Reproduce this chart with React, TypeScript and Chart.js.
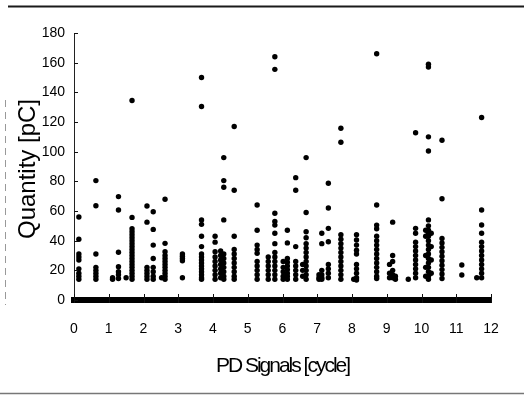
import React, { useEffect, useRef } from "react";
import { Chart, registerables } from "chart.js";

Chart.register(...registerables);

const xTitle = "PD Signals [cycle]";
const yTitle = "Quantity [pC]";
const xTickValues = [0, 1, 2, 3, 4, 5, 6, 7, 8, 9, 10, 11, 12];
const yTickValues = [0, 20, 40, 60, 80, 100, 120, 140, 160, 180];

// x position (cycle) of each column of PD signals
const signalCycles = [
  0.14, 0.63, 1.11, 1.28, 1.5, 1.67, 2.1, 2.28, 2.52, 2.62, 3.12, 3.67, 4.06, 4.22,
  4.31, 4.61, 5.27, 5.59, 5.78, 6.02, 6.14, 6.38, 6.58, 6.68, 7.05, 7.13, 7.32, 7.68,
  8.05, 8.13, 8.71, 9.08, 9.17, 9.25, 9.62, 9.83, 10.12, 10.2, 10.28, 10.59, 11.16,
  11.59, 11.73,
];

// charge values [pC] of the signals in each column
const signalCharges: number[][] = [
  [56, 41, 31, 29, 27, 21, 18, 16, 14],
  [80.5, 63.5, 31, 22, 20, 18, 16, 14],
  [15, 14],
  [69.7, 60.7, 32.2, 22.5, 19, 17, 14.5],
  [15],
  [134.5, 55.7, 48, 46, 44, 42, 40, 38, 36, 34, 32, 30, 28, 26, 24, 22, 20, 18, 16, 14],
  [63.4, 52.5, 22, 20, 18, 16, 14],
  [59.5, 47.6, 37, 28, 22, 19, 16, 14],
  [15],
  [67.9, 38.2, 32.5, 30, 28, 26, 24, 22, 20, 18, 16, 14],
  [31, 29.5, 28, 26.5, 15],
  [150, 130.5, 54, 51, 43, 36, 31, 29, 27, 25, 23, 21, 19, 17, 15, 14],
  [43, 39, 32.5, 29, 26, 23, 20, 17, 14],
  [33, 30, 27, 24, 21, 18, 15],
  [96, 80.5, 76, 54, 31, 28, 25, 22, 19, 16, 14],
  [117, 74, 43, 34, 31, 28, 25, 22, 19, 16, 14],
  [64, 47, 37, 34, 31.5, 26, 23, 20, 17, 14],
  [29, 26, 23, 20, 17, 14],
  [164, 155.5, 58.5, 53, 50.5, 45, 38, 32, 29, 26, 23, 20, 17, 14],
  [26, 22, 19, 16, 14],
  [47, 38.5, 28, 25.5, 23, 20.5, 18, 16, 14],
  [82.5, 74, 36, 26, 23, 20, 17, 14],
  [24, 20, 16],
  [96, 59, 46, 42, 38, 35, 32, 29, 26, 23, 20, 17, 14],
  [17, 15, 14],
  [45, 38, 20, 17, 15, 14],
  [78.7, 62, 48.3, 39.3, 24, 21, 18, 15],
  [115.8, 106.3, 44, 41, 38, 35, 32, 29, 26, 23, 20, 17, 14],
  [14],
  [44, 40.5, 37, 33.5, 31, 24, 21, 18, 15, 13.5],
  [166, 64, 50.5, 48, 43, 40, 37, 34, 31, 28, 25, 22, 19, 16, 14.5],
  [24, 18, 15],
  [52.5, 30, 26, 20, 17, 15],
  [16, 14],
  [14],
  [112.8, 48.3, 45, 39, 36, 33, 30, 27, 24, 21, 18, 15],
  [47, 43, 30, 22, 16],
  [159, 157, 110, 100.5, 54, 50, 47, 45, 43, 40, 37, 34, 31, 28, 25, 22, 19, 16, 14],
  [45, 36, 27, 18],
  [107.7, 68.3, 41.5, 38.5, 35.5, 32.5, 29.5, 26.5, 23.5, 20.5, 17.5, 14.5],
  [23.6, 16.9],
  [15],
  [123, 60.7, 50.6, 45, 39, 36, 33, 30, 27, 24, 21, 18, 15],
];

const FONT = "'Liberation Sans', Arial, Helvetica, sans-serif";

const decorPlugin = {
  id: "decor",
  afterDraw(chart: any) {
    const { ctx, scales } = chart;
    const xs = scales.x;
    const ys = scales.y;
    const line = (x1: number, y1: number, x2: number, y2: number) => {
      ctx.beginPath();
      ctx.moveTo(x1, y1);
      ctx.lineTo(x2, y2);
      ctx.stroke();
    };
    ctx.save();
    // outer frame of the scanned figure
    ctx.strokeStyle = "#1a1a1a";
    ctx.lineWidth = 2;
    line(8, 6.5, 524, 6.5);
    ctx.strokeStyle = "#777";
    ctx.lineWidth = 1.5;
    line(0, 393.5, 524, 393.5);
    ctx.strokeStyle = "#999";
    ctx.lineWidth = 1;
    ctx.setLineDash([7, 5]);
    line(5.5, 100, 5.5, 305);
    ctx.setLineDash([]);

    // inward tick marks
    ctx.strokeStyle = "#111";
    ctx.lineWidth = 1;
    const yLeft = ys.right;
    for (const v of yTickValues) {
      const y = Math.round(ys.getPixelForValue(v)) + 0.5;
      line(yLeft, y, yLeft + 4, y);
    }
    for (const v of xTickValues) {
      const x = Math.round(xs.getPixelForValue(v)) + 0.5;
      const y0 = ys.getPixelForValue(0);
      line(x, y0 - 6, x, y0 + 3);
    }

    // axis titles
    ctx.fillStyle = "#000";
    ctx.font = `21px ${FONT}`;
    ctx.textAlign = "center";
    ctx.textBaseline = "alphabetic";
    try {
      (ctx as any).letterSpacing = "-2px";
    } catch (e) {}
    ctx.fillText(xTitle, (xs.left + xs.right) / 2, 372);
    try {
      (ctx as any).letterSpacing = "0px";
    } catch (e) {}

    ctx.save();
    ctx.translate(35, 169);
    ctx.rotate(-Math.PI / 2);
    ctx.font = `24px ${FONT}`;
    ctx.fillText(yTitle, 0, 0);
    ctx.restore();

    ctx.restore();
  },
};

export default function App() {
  const canvasRef = useRef<HTMLCanvasElement | null>(null);

  useEffect(() => {
    const canvas = canvasRef.current;
    if (!canvas) return;
    const points: { x: number; y: number }[] = [];
    signalCycles.forEach((cx, i) => {
      for (const q of signalCharges[i]) points.push({ x: cx, y: q });
    });

    const chart = new Chart(canvas, {
      type: "scatter",
      data: {
        datasets: [
          {
            label: "PD signals",
            data: points,
            backgroundColor: "#000",
            borderColor: "#000",
            borderWidth: 0,
            pointRadius: 2.7,
            pointStyle: "circle",
          },
        ],
      },
      options: {
        animation: false,
        responsive: false,
        maintainAspectRatio: false,
        devicePixelRatio: 1,
        layout: { padding: { top: 33, right: 33, left: 0, bottom: 0 } },
        plugins: {
          legend: { display: false },
          tooltip: { enabled: false },
          title: { display: false },
        },
        scales: {
          x: {
            type: "linear",
            min: 0,
            max: 12,
            afterFit: (scale: any) => {
              scale.height = 96;
            },
            afterBuildTicks: (scale: any) => {
              scale.ticks = xTickValues.map((v) => ({ value: v }));
            },
            grid: { display: false, drawTicks: false },
            border: { display: true, color: "#000", width: 6 },
            ticks: {
              padding: 21,
              color: "#000",
              font: { family: FONT, size: 14 },
              maxRotation: 0,
            },
          },
          y: {
            type: "linear",
            min: 0,
            max: 180,
            afterFit: (scale: any) => {
              scale.width = 74;
            },
            afterBuildTicks: (scale: any) => {
              scale.ticks = yTickValues.map((v) => ({ value: v }));
            },
            grid: { display: false, drawTicks: false },
            border: { display: true, color: "#222", width: 1 },
            ticks: {
              padding: 9,
              color: "#000",
              font: { family: FONT, size: 14 },
            },
          },
        },
      },
      plugins: [decorPlugin],
    });
    return () => chart.destroy();
  }, []);

  return (
    <div
      style={{
        position: "fixed",
        left: 0,
        top: 0,
        width: 524,
        height: 396,
        background: "#fff",
      }}
    >
      <canvas ref={canvasRef} width={524} height={396} style={{ width: 524, height: 396 }} />
    </div>
  );
}
